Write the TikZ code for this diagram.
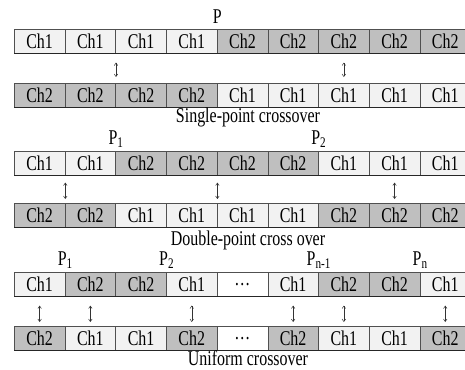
\documentclass[tikz,border=0pt]{standalone}
\usepackage{fontspec}
\setmainfont{Liberation Serif}[FakeStretch=0.76]
\usetikzlibrary{arrows.meta}
\definecolor{lightc}{HTML}{F2F2F2}
\definecolor{darkc}{HTML}{BFBFBF}
\definecolor{edgec}{HTML}{505050}
\expandafter\def\csname celltxt1\endcsname{Ch1}
\expandafter\def\csname celltxt2\endcsname{Ch2}
\expandafter\def\csname celltxtd\endcsname{\ldots}
\tikzset{
  cellbase/.style={draw=edgec, line width=0.6pt, minimum width=50.7pt, minimum height=24pt,
    inner sep=0pt, anchor=north west, font=\fontsize{21}{21}\selectfont},
  c1/.style={cellbase, fill=lightc},
  c2/.style={cellbase, fill=darkc},
  cd/.style={cellbase, fill=white},
  lbl/.style={font=\fontsize{21}{21}\selectfont, inner sep=0pt},
  xarrow/.style={{Straight Barb[length=2.5pt,width=3.5pt]}-{Straight Barb[length=2.5pt,width=3.5pt]},
    line width=0.5pt, draw=black!80},
  rowedge/.style={line width=1.2pt, draw=black!85},
}
\begin{document}
\begin{tikzpicture}[x=1pt,y=-1pt]
\useasboundingbox (0,0) rectangle (465,369);
% ---- single-point
\foreach \v [count=\i] in {1,1,1,1,2,2,2,2,2}
  \node[c\v] (sa\i) at ({14+(\i-1)*50.7},29) {\csname celltxt\v\endcsname};
\foreach \v [count=\i] in {2,2,2,2,1,1,1,1,1}
  \node[c\v] (sb\i) at ({14+(\i-1)*50.7},83) {\csname celltxt\v\endcsname};
\draw[rowedge] (sa1.south west) -- (sa9.south east);
\draw[rowedge] (sb1.south west) -- (sb9.south east);
\node[lbl, anchor=south] (p) at ([yshift=5pt]sa4.north east) {P};
\draw[xarrow] ([yshift=-9pt]sa2.south east) -- ([yshift=6pt]sb2.north east);
\draw[xarrow] ([yshift=-9pt]sa7.south) -- ([yshift=6pt]sb7.north);
\node[lbl] (cap1) at (248,117) {Single-point crossover};
% ---- double-point
\foreach \v [count=\i] in {1,1,2,2,2,2,1,1,1}
  \node[c\v] (da\i) at ({14+(\i-1)*50.7},151) {\csname celltxt\v\endcsname};
\foreach \v [count=\i] in {2,2,1,1,1,1,2,2,2}
  \node[c\v] (db\i) at ({14+(\i-1)*50.7},203) {\csname celltxt\v\endcsname};
\draw[rowedge] (da1.south west) -- (da9.south east);
\draw[rowedge] (db1.south west) -- (db9.south east);
\node[lbl, anchor=south] (dp1) at ([yshift=3pt]da2.north east) {P\textsubscript{1}};
\node[lbl, anchor=south] (dp2) at ([yshift=3pt]da6.north east) {P\textsubscript{2}};
\draw[xarrow] ([yshift=-7pt]da1.south east) -- ([yshift=4pt]db1.north east);
\draw[xarrow] ([yshift=-7pt]da4.south east) -- ([yshift=4pt]db4.north east);
\draw[xarrow] ([yshift=-7pt]da8.south) -- ([yshift=4pt]db8.north);
\node[lbl] (cap2) at (248,240) {Double-point cross over};
% ---- uniform
\foreach \v [count=\i] in {1,2,2,1,d,1,2,2,1}
  \node[c\v] (ua\i) at ({14+(\i-1)*50.7},272) {\csname celltxt\v\endcsname};
\foreach \v [count=\i] in {2,1,1,2,d,2,1,1,2}
  \node[c\v] (ub\i) at ({14+(\i-1)*50.7},326) {\csname celltxt\v\endcsname};
\draw[rowedge] (ua1.south west) -- (ua9.south east);
\draw[rowedge] (ub1.south west) -- (ub9.south east);
\node[lbl, anchor=south] (up1) at ([yshift=3pt]ua1.north east) {P\textsubscript{1}};
\node[lbl, anchor=south] (up2) at ([yshift=3pt]ua3.north east) {P\textsubscript{2}};
\node[lbl, anchor=south] (upn1) at ([yshift=3pt]ua6.north east) {P\textsubscript{n-1}};
\node[lbl, anchor=south] (upn) at ([yshift=3pt]ua8.north east) {P\textsubscript{n}};
\foreach \k in {1,2,4,6,7,9}
  \draw[xarrow] ([yshift=-9pt]ua\k.south) -- ([yshift=4pt]ub\k.north);
\node[lbl] (cap3) at (248,358) {Uniform crossover};
\end{tikzpicture}
\end{document}
